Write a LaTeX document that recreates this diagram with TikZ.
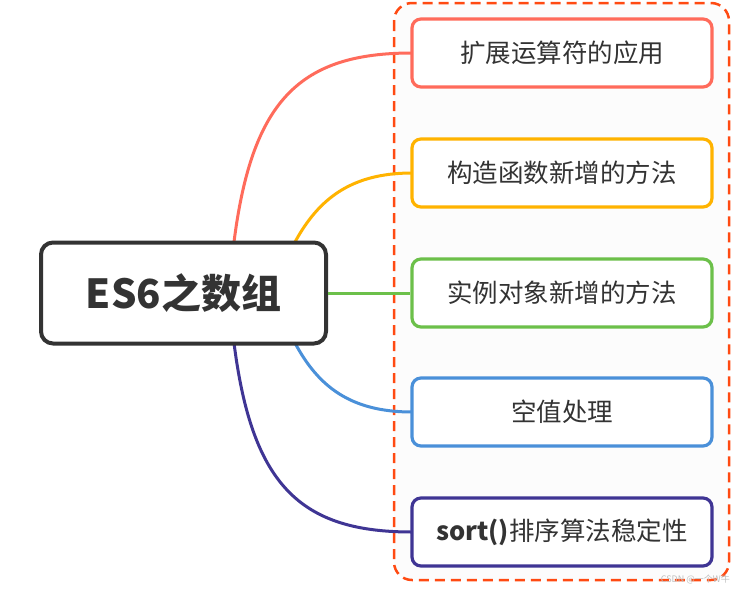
\documentclass[tikz,border=0pt]{standalone}
\usepackage{fontspec}
\setmainfont{Noto Sans CJK SC}
\usetikzlibrary{calc}
\definecolor{cred}{HTML}{FF6B5B}
\definecolor{corange}{HTML}{FFB300}
\definecolor{cgreen}{HTML}{6CC04A}
\definecolor{cblue}{HTML}{4A90D9}
\definecolor{cpurple}{HTML}{3F3594}
\definecolor{cdark}{HTML}{333333}
\definecolor{cdash}{HTML}{FF4A12}
\tikzset{
  topic/.style={draw=#1, line width=3.2pt, rounded corners=9pt, minimum width=300pt, minimum height=68pt, fill=white, text=cdark, font=\fontsize{25.5}{28}\selectfont, inner sep=0pt},
  link/.style={draw=#1, line width=3pt},
}
\begin{document}
\begin{tikzpicture}[x=1pt,y=-1pt]
\useasboundingbox (0,0) rectangle (738,592);
\fill[white] (0,0) rectangle (738,592);
\draw[cdash, fill=black!1, line width=2.5pt, dash pattern=on 10pt off 6pt, rounded corners=18pt] (394,3) rectangle (729,580);
\coordinate (a1) at (234,242);
\coordinate (a2) at (295,242);
\coordinate (a4) at (295,343);
\coordinate (a5) at (234,343);
\draw[link=cred] (a1) .. controls (252,100) and (300,53) .. (412,53);
\draw[link=corange] (a2) .. controls (318,200) and (350,173) .. (412,173);
\draw[link=cblue] (a4) .. controls (318,386) and (350,412) .. (412,412);
\draw[link=cpurple] (a5) .. controls (252,485) and (300,532) .. (412,532);
\node[draw=cdark, line width=4pt, rounded corners=12pt, minimum width=285pt, minimum height=101pt, fill=white, text=cdark, font=\fontsize{40}{44}\selectfont\bfseries, inner sep=0pt] (c) at (183.5,293) {ES6之数组};
\node[topic=cred] (t1) at (562,53) {扩展运算符的应用};
\node[topic=corange] (t2) at (562,173) {构造函数新增的方法};
\node[topic=cgreen] (t3) at (562,293) {实例对象新增的方法};
\node[topic=cblue] (t4) at (562,412) {空值处理};
\node[topic=cpurple] (t5) at (562,532) {\textbf{sort()}排序算法稳定性};
\draw[link=cgreen] (c.east) -- (t3.west);
\node[text=black!25, font=\fontsize{9}{10}\selectfont, anchor=east, inner sep=0pt] (wm) at (730,579) {CSDN @一个W牛};
\end{tikzpicture}
\end{document}
